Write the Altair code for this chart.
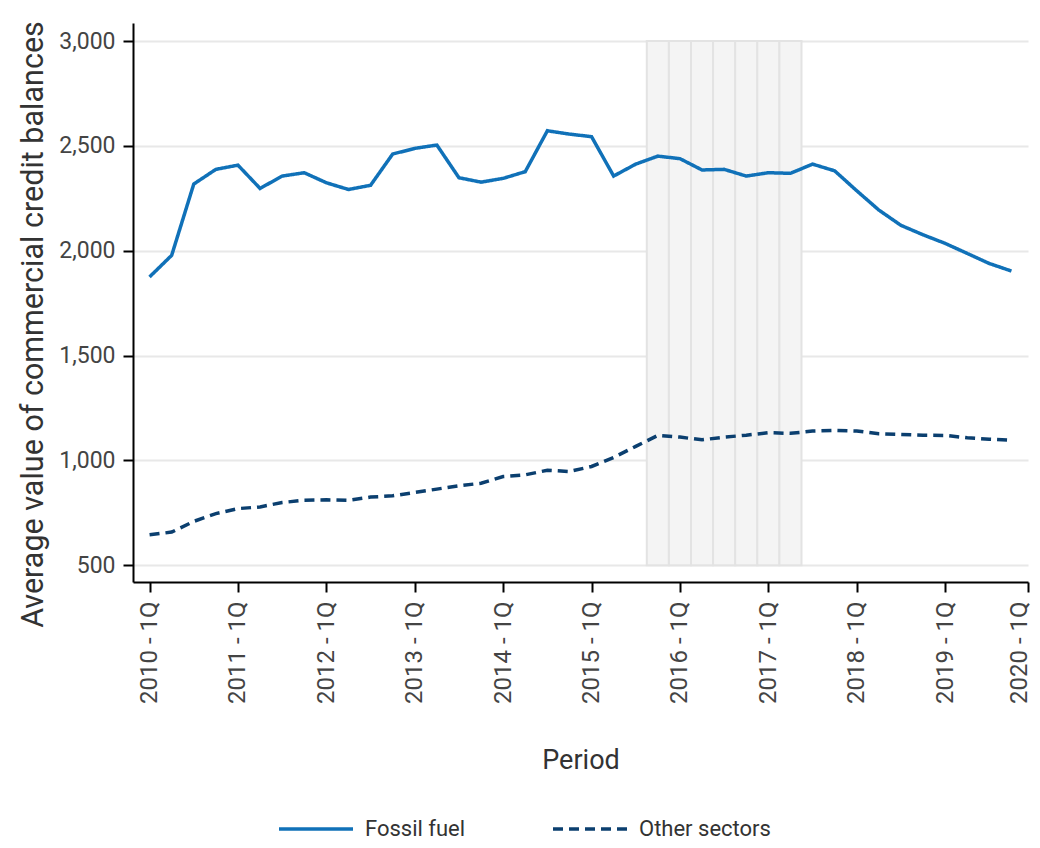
import altair as alt
import pandas as pd

years = list(range(2010, 2020))
periods = [f"{y} - {q}Q" for y in years for q in range(1, 5)]

fossil_fuel = [1875, 1978, 2318, 2388, 2408, 2297, 2356, 2372, 2324, 2292,
               2312, 2461, 2488, 2504, 2348, 2327, 2345, 2377, 2572, 2556,
               2544, 2356, 2413, 2451, 2439, 2385, 2388, 2356, 2372, 2369,
               2413, 2381, 2286, 2194, 2121, 2076, 2035, 1987, 1939, 1903]
other_sectors = [645, 658, 709, 746, 770, 778, 799, 810, 812, 810,
                 825, 831, 847, 863, 879, 891, 923, 931, 953, 947,
                 971, 1014, 1067, 1119, 1111, 1098, 1111, 1120, 1132, 1129,
                 1140, 1143, 1140, 1127, 1124, 1120, 1119, 1108, 1101, 1096]

series_names = ["Fossil fuel", "Other sectors"]
series_colors = ["#1071b8", "#0b3f6f"]

shaded_periods = ["2015 - 4Q", "2016 - 1Q", "2016 - 2Q", "2016 - 3Q",
                  "2016 - 4Q", "2017 - 1Q", "2017 - 2Q"]
shade_top = 3000
shade_bottom = 500

y_ticks = [500, 1000, 1500, 2000, 2500, 3000]
x_tick_labels = ["2010 - 1Q", "2011 - 1Q", "2012 - 1Q", "2013 - 1Q", "2014 - 1Q",
                 "2015 - 1Q", "2016 - 1Q", "2017 - 1Q", "2018 - 1Q", "2019 - 1Q",
                 "2020 - 1Q"]

rows = []
for name, vals in zip(series_names, [fossil_fuel, other_sectors]):
    for i, (p, v) in enumerate(zip(periods, vals)):
        rows.append({"idx": i, "period": p, "series": name, "value": v})
df = pd.DataFrame(rows)

shade_df = pd.DataFrame({
    "x": [periods.index(p) - 0.5 for p in shaded_periods],
    "x2": [periods.index(p) + 0.5 for p in shaded_periods],
    "y": [shade_top] * len(shaded_periods),
    "y2": [shade_bottom] * len(shaded_periods),
})

n = len(periods)
x_domain = [-0.75, n - 0.25]
tick_vals = [periods.index(l) for l in x_tick_labels[:-1]] + [x_domain[1]]
label_expr = ("datum.value >= " + str(n - 1) + " ? '" + x_tick_labels[-1] +
              "' : (2010 + datum.value / 4) + ' - 1Q'")

x_scale = alt.Scale(domain=x_domain, nice=False, zero=False)
y_scale = alt.Scale(domain=[420, 3086], nice=False, zero=False)

x_axis = alt.Axis(values=tick_vals, labelExpr=label_expr, labelAngle=270,
                  title="Period", grid=False, titlePadding=44, labelPadding=9,
                  labelFontSize=24, titleFontSize=27,
                  labelOffset=alt.ExprRef("datum.value >= " + str(n - 1) + " ? -9 : 0"))
y_axis = alt.Axis(values=y_ticks, format=",.0f", grid=True,
                  title="Average value of commercial credit balances",
                  titlePadding=10, labelPadding=8, labelFontSize=23,
                  titleFontSize=30.5, titleY=301)

shade = alt.Chart(shade_df).mark_rect(
    fill="#f4f4f4", stroke="#e3e3e3", strokeWidth=2
).encode(
    x=alt.X("x:Q", scale=x_scale, axis=x_axis),
    x2="x2:Q",
    y=alt.Y("y:Q", scale=y_scale, axis=y_axis),
    y2="y2:Q",
)

lines = alt.Chart(df).mark_line(strokeWidth=3.5).encode(
    x=alt.X("idx:Q", scale=x_scale, axis=x_axis),
    y=alt.Y("value:Q", scale=y_scale, axis=y_axis),
    color=alt.Color("series:N",
                    scale=alt.Scale(domain=series_names, range=series_colors),
                    legend=alt.Legend(title=None, orient="none", legendX=144,
                                      legendY=767, direction="horizontal",
                                      symbolType="stroke", symbolSize=5476,
                                      symbolStrokeWidth=3.5, columnPadding=80,
                                      labelOffset=10, padding=0)),
    strokeDash=alt.StrokeDash("series:N",
                              scale=alt.Scale(domain=series_names,
                                              range=[[1, 0], [10, 6]]),
                              legend=None),
)

chart = alt.layer(shade, lines).properties(
    width=895, height=559,
    autosize=alt.AutoSizeParams(type="none"),
    padding={"left": 125, "top": 15, "right": 4, "bottom": 258},
).configure_view(stroke=None).configure_axis(
    labelFont="Roboto", titleFont="Roboto",
    titleFontWeight="normal", labelColor="#444444", titleColor="#333333",
    domainColor="#000000", domainWidth=2, tickColor="#000000", tickWidth=2,
    tickSize=10, gridColor="#e8e8e8", gridWidth=2,
).configure_legend(
    labelFont="Roboto", labelFontSize=22, labelColor="#333333",
)

chart.save("out.html", embed_options={"renderer": "svg", "actions": False})
